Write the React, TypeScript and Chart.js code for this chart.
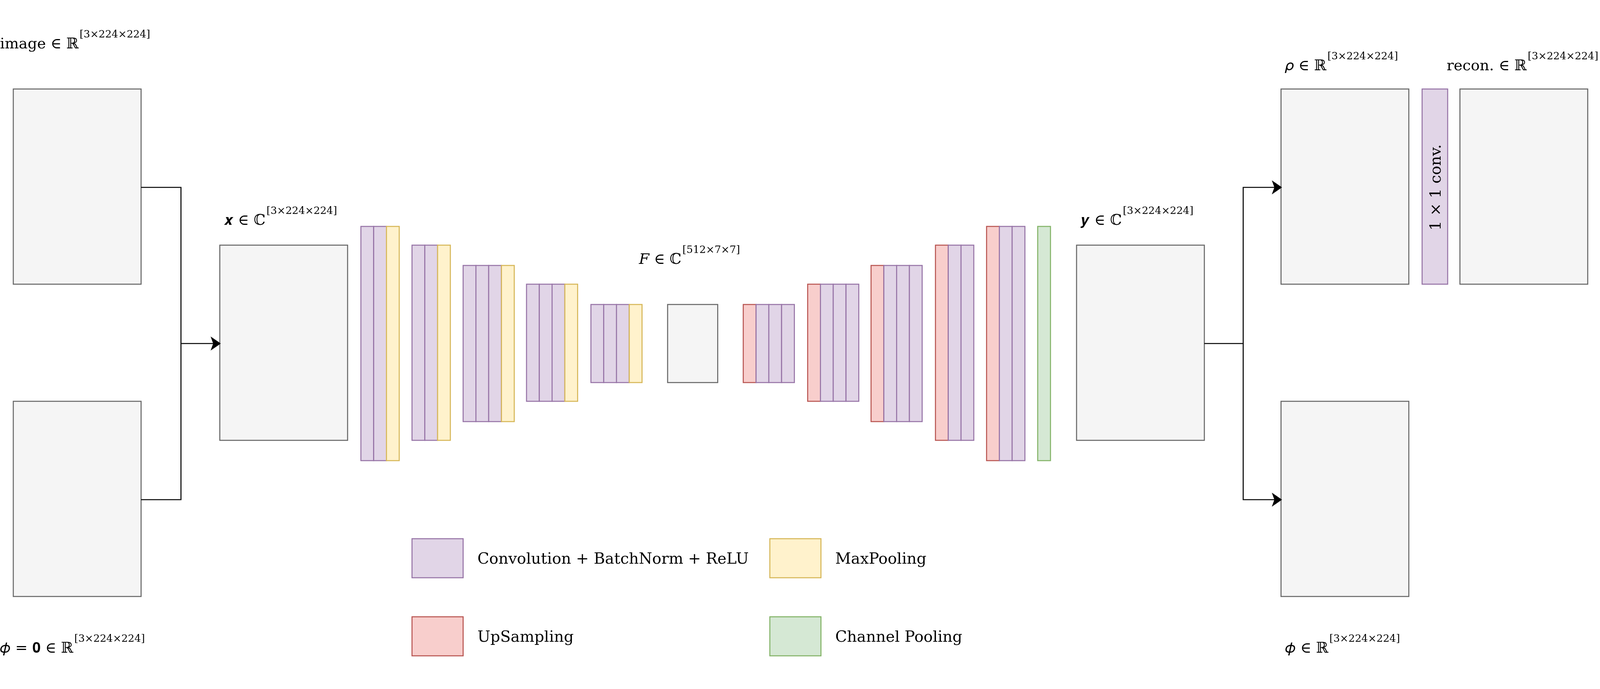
import React, { useEffect, useRef } from "react";
import { Chart, registerables } from "chart.js";

Chart.register(...registerables);

// diagram units (reference scaled to 1565 x 441)
const W = 1565;
const H = 441.25;

const COLORS: Record<string, [string, string]> = {
  gray: ["#f5f5f5", "#666666"],
  conv: ["#e1d5e7", "#9673a6"],
  pool: ["#fff2cc", "#d6b656"],
  up: ["#f8cecc", "#b85450"],
  chan: ["#d5e8d4", "#82b366"],
};

// [x0, y0, x1, y1, kind]
const boxes: [number, number, number, number, string][] = [
  [13, 57, 138, 182, "gray"],
  [13, 257, 138, 382, "gray"],
  [215, 157, 340, 282, "gray"],
  [653, 195, 702, 245, "gray"],
  [1053, 157, 1178, 282, "gray"],
  [1253, 57, 1378, 182, "gray"],
  [1253, 257, 1378, 382, "gray"],
  [1391, 57, 1416, 182, "conv"],
  [1428, 57, 1553, 182, "gray"],
];

// encoder/decoder stacks: start x, top y, bottom y, layer kinds
const stacks: [number, number, number, string[]][] = [
  [353, 145, 295, ["conv", "conv", "pool"]],
  [403, 157, 282, ["conv", "conv", "pool"]],
  [453, 170, 270, ["conv", "conv", "conv", "pool"]],
  [515, 182, 257, ["conv", "conv", "conv", "pool"]],
  [578, 195, 245, ["conv", "conv", "conv", "pool"]],
  [727, 195, 245, ["up", "conv", "conv", "conv"]],
  [790, 182, 257, ["up", "conv", "conv", "conv"]],
  [852, 170, 270, ["up", "conv", "conv", "conv"]],
  [915, 157, 282, ["up", "conv", "conv"]],
  [965, 145, 295, ["up", "conv", "conv"]],
  [1015, 145, 295, ["chan"]],
];
const LAYER_W = 12.5;

// connectors: polyline points, arrow at end?
const paths: [number[][], boolean][] = [
  [[[138, 120], [177, 120], [177, 220], [213, 220]], true],
  [[[138, 320], [177, 320], [177, 220]], false],
  [[[1178, 220], [1216, 220], [1216, 120], [1251, 120]], true],
  [[[1216, 220], [1216, 320], [1251, 320]], true],
];

// legend entries: swatch x, swatch y, kind, label
const legendItems: [number, number, string, string][] = [
  [403, 345, "conv", "Convolution + BatchNorm + ReLU"],
  [753, 345, "pool", "MaxPooling"],
  [403, 395, "up", "UpSampling"],
  [753, 395, "chan", "Channel Pooling"],
];

// text labels: x, baseline y, main text, superscript
const labels: [number, number, string, string][] = [
  [0, 31, "image ∈ ℝ", "[3×224×224]"],
  [219, 144, "𝒙 ∈ ℂ", "[3×224×224]"],
  [625, 169, "𝐹 ∈ ℂ", "[512×7×7]"],
  [1057, 144, "𝒚 ∈ ℂ", "[3×224×224]"],
  [1257, 45, "𝜌 ∈ ℝ", "[3×224×224]"],
  [1415, 45, "recon. ∈ ℝ", "[3×224×224]"],
  [0, 418, "𝜙 = 𝟎 ∈ ℝ", "[3×224×224]"],
  [1257, 418, "𝜙 ∈ ℝ", "[3×224×224]"],
];

const FONT = "'DejaVu Serif', 'Liberation Serif', serif";

const diagramPlugin = {
  id: "diagram",
  afterDatasetsDraw(chart: any) {
    const ctx: CanvasRenderingContext2D = chart.ctx;
    const sx = chart.scales.x;
    const sy = chart.scales.y;
    const X = (v: number) => sx.getPixelForValue(v);
    const Y = (v: number) => sy.getPixelForValue(v);
    const k = (X(W) - X(0)) / W;
    ctx.save();
    ctx.lineWidth = 1 * k;

    const rect = (x0: number, y0: number, x1: number, y1: number, kind: string) => {
      const [f, s] = COLORS[kind];
      ctx.fillStyle = f;
      ctx.strokeStyle = s;
      ctx.fillRect(X(x0), Y(y0), X(x1) - X(x0), Y(y1) - Y(y0));
      ctx.strokeRect(X(x0), Y(y0), X(x1) - X(x0), Y(y1) - Y(y0));
    };

    boxes.forEach((b) => rect(b[0], b[1], b[2], b[3], b[4]));
    stacks.forEach(([x, y0, y1, kinds]) =>
      kinds.forEach((kd, i) => rect(x + i * LAYER_W, y0, x + (i + 1) * LAYER_W, y1, kd))
    );
    legendItems.forEach(([x, y, kd]) => rect(x, y, x + 50, y + 25, kd));

    ctx.strokeStyle = "#000";
    ctx.fillStyle = "#000";
    paths.forEach(([pts, arrow]) => {
      ctx.beginPath();
      pts.forEach((p, i) => (i ? ctx.lineTo(X(p[0]), Y(p[1])) : ctx.moveTo(X(p[0]), Y(p[1]))));
      ctx.stroke();
      if (arrow) {
        const [ex, ey] = pts[pts.length - 1];
        ctx.beginPath();
        ctx.moveTo(X(ex + 3), Y(ey));
        ctx.lineTo(X(ex - 7), Y(ey - 4.5));
        ctx.lineTo(X(ex - 4.5), Y(ey));
        ctx.lineTo(X(ex - 7), Y(ey + 4.5));
        ctx.closePath();
        ctx.fill();
      }
    });

    ctx.textBaseline = "alphabetic";
    ctx.textAlign = "left";
    legendItems.forEach(([x, y, , t]) => {
      ctx.font = `${15 * k}px ${FONT}`;
      ctx.fillText(t, X(x + 64), Y(y + 16));
    });
    labels.forEach(([x, y, main, sup]) => {
      ctx.font = `${14.5 * k}px ${FONT}`;
      ctx.fillText(main, X(x), Y(y));
      const w = ctx.measureText(main).width;
      ctx.font = `${10 * k}px ${FONT}`;
      ctx.fillText(sup, X(x) + w + 1 * k, Y(y - 7));
    });

    // rotated label in 1x1 conv
    ctx.save();
    ctx.translate(X(1409), Y(120));
    ctx.rotate(-Math.PI / 2);
    ctx.textAlign = "center";
    ctx.font = `${15 * k}px ${FONT}`;
    ctx.fillText("1 × 1 conv.", 0, 0);
    ctx.restore();
    ctx.restore();
  },
};

const App: React.FC = () => {
  const canvas = useRef<HTMLCanvasElement>(null);

  useEffect(() => {
    document.body.style.margin = "0";
    document.body.style.overflow = "hidden";
    const chart = new Chart(canvas.current!.getContext("2d")!, {
      type: "scatter",
      data: {
        datasets: [
          {
            data: boxes.map((b) => ({ x: (b[0] + b[2]) / 2, y: (b[1] + b[3]) / 2 })),
            pointRadius: 0,
          },
        ],
      },
      options: {
        responsive: true,
        maintainAspectRatio: false,
        animation: false,
        layout: { padding: 0 },
        events: [],
        scales: {
          x: { type: "linear", min: 0, max: W, display: false },
          y: { type: "linear", min: 0, max: H, reverse: true, display: false },
        },
        plugins: { legend: { display: false }, tooltip: { enabled: false } },
      },
      plugins: [diagramPlugin],
    });
    return () => chart.destroy();
  }, []);

  return (
    <div style={{ position: "fixed", left: 0, top: 0, width: "100vw", height: "100vh", background: "#fff" }}>
      <canvas ref={canvas}></canvas>
    </div>
  );
};

export default App;
